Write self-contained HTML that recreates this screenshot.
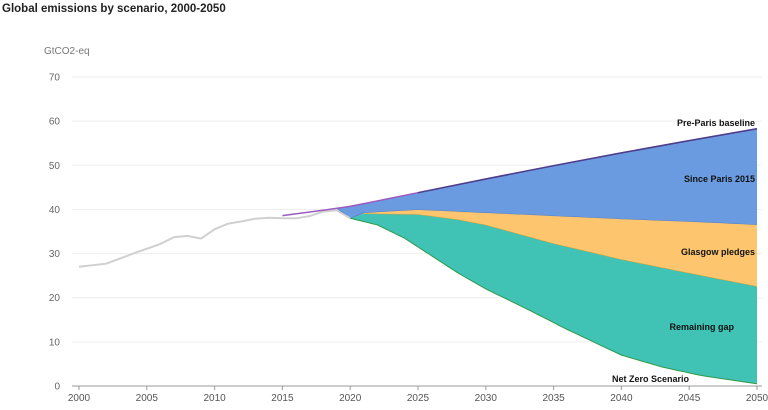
<!DOCTYPE html>
<html><head><meta charset="utf-8"><style>
body{margin:0;background:#fff;width:768px;height:405px;overflow:hidden;font-family:"Liberation Sans",sans-serif}
</style></head><body>
<svg id="s" width="768" height="405" xmlns="http://www.w3.org/2000/svg" font-family="Liberation Sans, sans-serif">
<text x="2" y="12" font-size="11.5" font-weight="bold" fill="#222">Global emissions by scenario, 2000-2050</text>
<text x="44" y="54" font-size="10" fill="#777">GtCO2-eq</text>
</svg>
<script>
(function(){
var s=document.getElementById('s'),NS='http://www.w3.org/2000/svg';
function X(y){return 79+(y-2000)*13.56}function Y(v){return 386-v*4.414}
function el(t,a,txt){var e=document.createElementNS(NS,t);for(var k in a)e.setAttribute(k,a[k]);if(txt)e.textContent=txt;s.appendChild(e);return e}
for(var v=0;v<=70;v+=10){el('line',{x1:72,x2:762,y1:Y(v),y2:Y(v),stroke:v?'#eee':'#999','stroke-width':1});el('text',{x:60,y:Y(v)+3.5,'font-size':10,fill:'#666','text-anchor':'end'},''+v)}
for(var yr=2000;yr<=2050;yr+=5){el('line',{x1:X(yr),x2:X(yr),y1:386,y2:390,stroke:'#999'});el('text',{x:X(yr),y:401,'font-size':10,fill:'#555','text-anchor':'middle'},''+yr)}
function interp(p){var out=[];for(var i=0;i<p.length-1;i++){var a=p[i],b=p[i+1];for(var t=0;t<0.999;t+=0.1){out.push([a[0]+(b[0]-a[0])*t,a[1]+(b[1]-a[1])*t])}}out.push(p[p.length-1]);return out}
function pts(p){return p.map(function(q){return X(q[0]).toFixed(1)+','+Y(q[1]).toFixed(1)}).join(' ')}
var topL=[[2019,40.3],[2025,43.7],[2030,46.8],[2035,49.8],[2040,52.7],[2045,55.5],[2050,58.3]];
var sp=[[2019,40.3],[2020,38],[2021,39.2],[2025,39.9],[2030,39.2],[2035,38.5],[2040,37.8],[2045,37.2],[2050,36.5]];
var gl=[[2020,38],[2021,39],[2025,38.8],[2028,37.6],[2030,36.4],[2035,32.2],[2040,28.6],[2045,25.5],[2050,22.5]];
var nz=[[2020,38],[2022,36.5],[2024,33.5],[2026,29.5],[2028,25.5],[2030,22],[2033,17.5],[2036,12.8],[2040,7],[2043,4.3],[2046,2.3],[2050,0.5]];
function area(a,b,fill,stroke){var pa=interp(a),pb=interp(b).reverse();el('polygon',{points:pts(pa.concat(pb)),fill:fill});if(stroke)el('polyline',{points:pts(interp(b)),fill:'none',stroke:stroke,'stroke-width':1})}
area(topL,sp,'#6a9be0','#5a7fc0');
area(sp.slice(2),gl.slice(1),'#fdc66e','#d8a23a');
area([[2020,38]].concat(gl.slice(1)),nz,'#40c2b5','#2e9a4a');
var hist=[[2000,27],[2002,27.7],[2004,30],[2006,32.2],[2007,33.7],[2008,34],[2009,33.4],[2010,35.5],[2011,36.8],[2012,37.3],[2013,37.9],[2014,38.1],[2015,38],[2016,38],[2017,38.5],[2018,39.5],[2019,39.8],[2020,38]];
el('polyline',{points:pts(hist),fill:'none',stroke:'#d0d0d0','stroke-width':2});
var pp=[[2015,38.6],[2018,39.8],[2020,40.7],[2025,43.8],[2030,46.9],[2035,49.9],[2040,52.8],[2045,55.6],[2050,58.3]];
el('polyline',{points:pts(pp),fill:'none',stroke:'#9a5cc0','stroke-width':1.5});
el('polyline',{points:pts(pp.slice(3)),fill:'none',stroke:'#4a3f8a','stroke-width':1.5});
var L=[['Pre-Paris baseline',755,126],['Since Paris 2015',755,182],['Glasgow pledges',755,255],['Remaining gap',734,330],['Net Zero Scenario',689,382]];
L.forEach(function(l){el('text',{x:l[1],y:l[2],'font-size':9,'font-weight':'bold',fill:'#111','text-anchor':'end'},l[0])});
})();
</script>
</body></html>
